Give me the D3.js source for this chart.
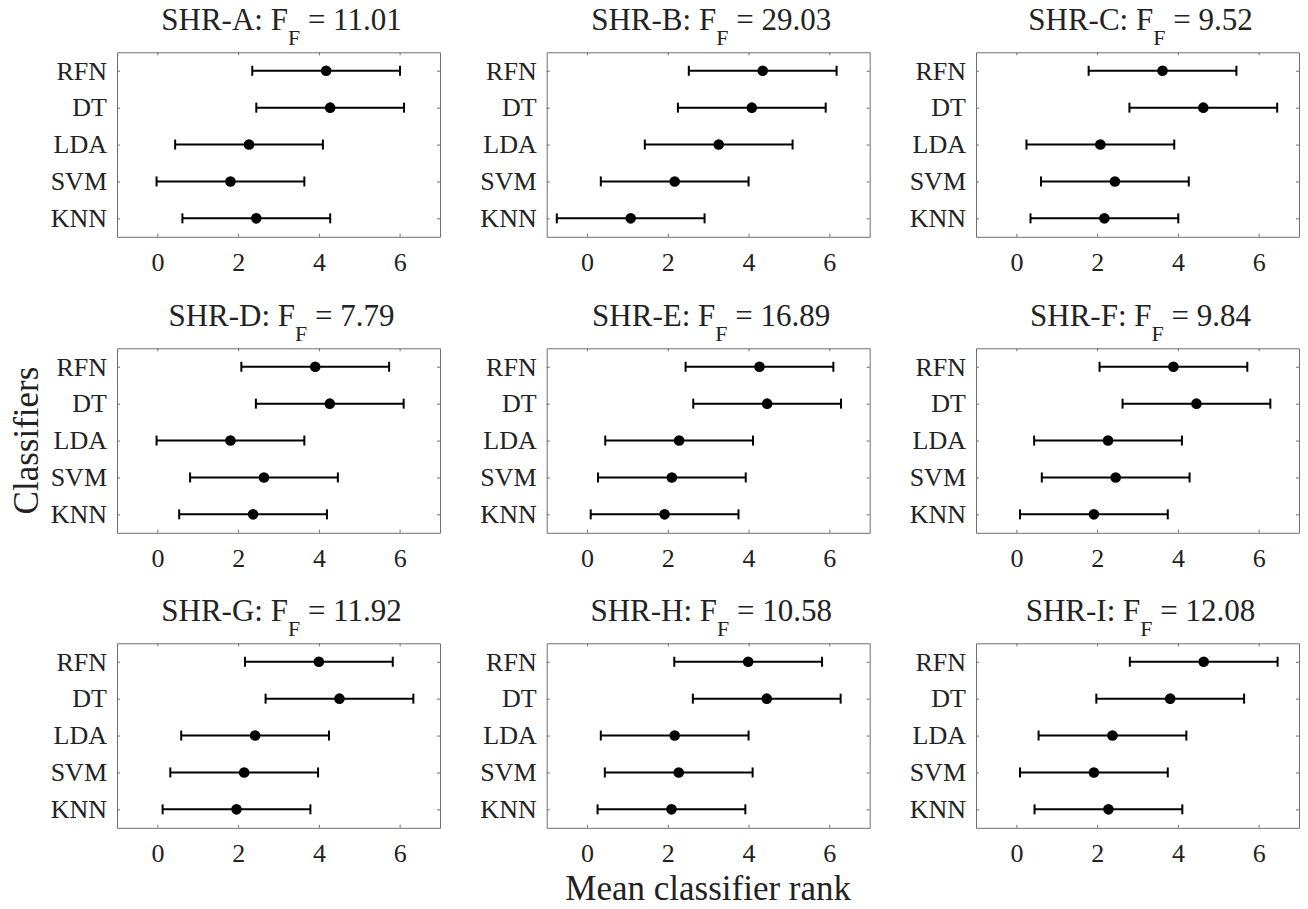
<!DOCTYPE html>
<html lang="en">
<head>
    <meta charset="UTF-8">
    <title>Mean classifier rank per dataset</title>
    <script src="https://d3js.org/d3.v7.min.js"></script>
    <style>
        body {
            margin: 0;
            padding: 0;
            background-color: #fff;
        }

        svg text {
            font-family: "Liberation Serif", "Times New Roman", serif;
            fill: #222;
        }

        .domain {
            stroke: #6e6e6e;
        }

        .tick line {
            stroke: #6e6e6e;
        }
    </style>
</head>
<body>

<div id="graphContainer"></div>

<script>
    // data
    const classifiers = ["RFN", "DT", "LDA", "SVM", "KNN"];
    const datasets = ["SHR-A", "SHR-B", "SHR-C", "SHR-D", "SHR-E", "SHR-F", "SHR-G", "SHR-H", "SHR-I"];
    const fStats = ["11.01", "29.03", "9.52", "7.79", "16.89", "9.84", "11.92", "10.58", "12.08"];

    const ranksA = [4.18, 4.28, 2.27, 1.81, 2.45];
    const ranksB = [4.35, 4.08, 3.26, 2.17, 1.08];
    const ranksC = [3.62, 4.63, 2.08, 2.44, 2.18];
    const ranksD = [3.91, 4.27, 1.81, 2.64, 2.37];
    const ranksE = [4.27, 4.46, 2.28, 2.10, 1.92];
    const ranksF = [3.89, 4.46, 2.27, 2.46, 1.92];
    const ranksG = [4.00, 4.51, 2.42, 2.15, 1.96];
    const ranksH = [3.99, 4.45, 2.17, 2.27, 2.09];
    const ranksI = [4.64, 3.81, 2.38, 1.92, 2.28];
    const allRanks = [ranksA, ranksB, ranksC, ranksD, ranksE, ranksF, ranksG, ranksH, ranksI];

    const cdHalf = 1.83;           // half width of the error bar
    const xTicks = [0, 2, 4, 6];
    const xDomain = [-1, 7];

    const svgWidth = 1308;
    const svgHeight = 909;
    const colLeft = [117, 546.7, 976];
    const rowTop = [52.3, 348.3, 643.3];
    const width = 323;
    const height = 184.5;

    const svg = d3.select("#graphContainer")
        .append("svg")
        .attr("width", svgWidth)
        .attr("height", svgHeight);

    const x = d3.scaleLinear().domain(xDomain).range([0, width]);
    const y = d3.scalePoint().domain(classifiers).range([0, height]).padding(0.5);

    datasets.forEach((name, i) => {
        const g = svg.append("g")
            .attr("transform", "translate(" + colLeft[i % 3] + "," + rowTop[Math.floor(i / 3)] + ")");

        const rows = classifiers.map((c, j) => ({ name: c, rank: allRanks[i][j] }));

        // axes box with inward ticks on every side
        const bottom = g.append("g")
            .attr("transform", "translate(0," + height + ")")
            .call(d3.axisBottom(x).tickValues(xTicks).tickSizeInner(-3).tickSizeOuter(0).tickPadding(15.5));
        g.append("g")
            .call(d3.axisTop(x).tickValues(xTicks).tickSizeInner(-3).tickSizeOuter(0).tickFormat(""));
        const left = g.append("g")
            .call(d3.axisLeft(y).tickSizeInner(-3).tickSizeOuter(0).tickPadding(10));
        g.append("g")
            .attr("transform", "translate(" + width + ",0)")
            .call(d3.axisRight(y).tickSizeInner(-3).tickSizeOuter(0).tickFormat(""));

        bottom.selectAll("text").attr("font-size", 26);
        left.selectAll("text").attr("font-size", 26);
        g.selectAll(".domain").attr("stroke-width", 1);

        // error bars
        const bars = g.selectAll(".bar")
            .data(rows)
            .enter()
            .append("g")
            .attr("class", "bar");

        bars.append("line")
            .attr("x1", d => x(d.rank - cdHalf))
            .attr("x2", d => x(d.rank + cdHalf))
            .attr("y1", d => y(d.name))
            .attr("y2", d => y(d.name))
            .attr("stroke", "#000")
            .attr("stroke-width", 2);

        [-1, 1].forEach(s => {
            bars.append("line")
                .attr("x1", d => x(d.rank + s * cdHalf))
                .attr("x2", d => x(d.rank + s * cdHalf))
                .attr("y1", d => y(d.name) - 5)
                .attr("y2", d => y(d.name) + 5)
                .attr("stroke", "#000")
                .attr("stroke-width", 2);
        });

        bars.append("circle")
            .attr("cx", d => x(d.rank))
            .attr("cy", d => y(d.name))
            .attr("r", 5.3)
            .attr("fill", "#000");

        // title with subscript
        const title = g.append("text")
            .attr("x", width / 2 + 3)
            .attr("y", -22)
            .attr("text-anchor", "middle")
            .attr("font-size", 31);
        title.append("tspan").text(name + ": F");
        title.append("tspan").attr("font-size", 22).attr("dy", 15).text("F");
        title.append("tspan").attr("dy", -15).text(" = " + fStats[i]);
    });

    svg.append("text")
        .attr("x", (colLeft[1] + width / 2))
        .attr("y", 900)
        .attr("text-anchor", "middle")
        .attr("font-size", 35)
        .text("Mean classifier rank");

    svg.append("text")
        .attr("transform", "translate(38," + (rowTop[1] + height / 2) + ") rotate(-90)")
        .attr("text-anchor", "middle")
        .attr("font-size", 35)
        .text("Classifiers");
</script>

</body>
</html>
